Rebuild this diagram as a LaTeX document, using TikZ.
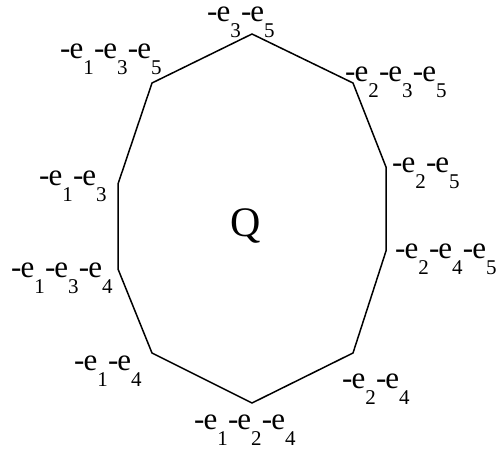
\documentclass[tikz,border=0pt]{standalone}
\usepackage{fontspec}
\setmainfont{Liberation Serif}
\newcommand\ee[1]{-\kern-1pt e\raisebox{-16.5pt}{\fontsize{21}{21}\selectfont #1}}
\newcommand\sep{\kern0.3pt}
\begin{document}
\begin{tikzpicture}[x=1pt,y=-1pt,
  lbl/.style={inner sep=0pt,anchor=base west,text height=14pt,font=\fontsize{31}{31}\selectfont},
  edge/.style={line width=1.5pt,line join=miter}]
\useasboundingbox (0,0) rectangle (496,453);
\coordinate (v1) at (252,34);
\coordinate (v2) at (353,83);
\coordinate (v3) at (386,167);
\coordinate (v4) at (386,251);
\coordinate (v5) at (353,353);
\coordinate (v6) at (252,403);
\coordinate (v7) at (152,353);
\coordinate (v8) at (118,269);
\coordinate (v9) at (118,184);
\coordinate (v10) at (152,83);
\draw[edge] (v1) -- (v2) -- (v3) -- (v4) -- (v5) -- (v6) -- (v7) -- (v8) -- (v9) -- (v10) -- cycle;
\node[lbl] (l1) at (207,21) {\ee3\sep\ee5};
\node[lbl] (l2) at (60,58) {\ee1\sep\ee3\sep\ee5};
\node[lbl] (l3) at (345,81) {\ee2\sep\ee3\sep\ee5};
\node[lbl] (l4) at (392,172) {\ee2\sep\ee5};
\node[lbl] (l5) at (395,258) {\ee2\sep\ee4\sep\ee5};
\node[lbl] (l6) at (342,388) {\ee2\sep\ee4};
\node[lbl] (l7) at (194,429) {\ee1\sep\ee2\sep\ee4};
\node[lbl] (l8) at (74,370) {\ee1\sep\ee4};
\node[lbl] (l9) at (11,277) {\ee1\sep\ee3\sep\ee4};
\node[lbl] (l10) at (39,185) {\ee1\sep\ee3};
\node[inner sep=0pt,anchor=base,font=\fontsize{42}{42}\selectfont] (q) at (246,236) {Q};
\end{tikzpicture}
\end{document}
